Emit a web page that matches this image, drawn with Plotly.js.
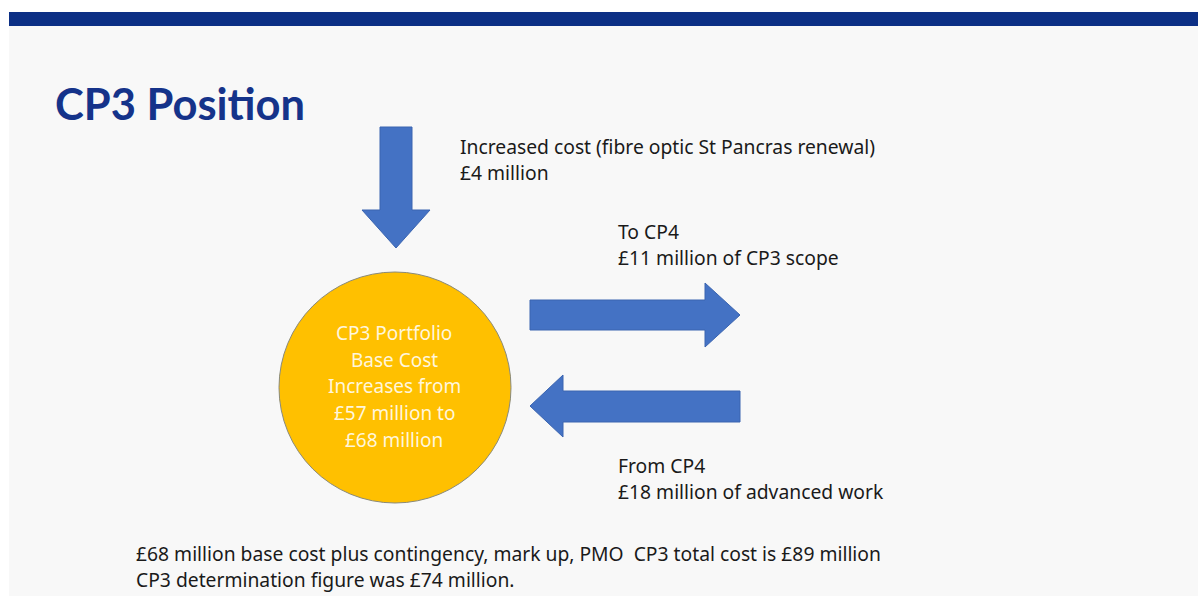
<!DOCTYPE html>
<html>
<head>
<meta charset="utf-8">
<script src="https://cdn.plot.ly/plotly-3.0.1.min.js"></script>
<style>html,body{margin:0;padding:0;background:#fff;}#chart{width:1198px;height:596px;}</style>
</head>
<body>
<div id="chart"></div>
<script>
// ---- content ----
const titleText = "CP3 Position";
const circleLines = ["CP3 Portfolio", "Base Cost", "Increases from", "£57 million to", "£68 million"];
const increaseLines = ["Increased cost (fibre optic St Pancras renewal)", "£4 million"];
const toCP4Lines = ["To CP4", "£11 million of CP3 scope"];
const fromCP4Lines = ["From CP4", "£18 million of advanced work"];
const footerLines = ["£68 million base cost plus contingency, mark up, PMO  CP3 total cost is £89 million",
                     "CP3 determination figure was £74 million."];

// ---- layout / styling ----
const W = 1198, H = 596;
const arrowFill = "#4472C4", arrowLine = "#3a64b0";
const textFont = {family: "Noto Sans, sans-serif", size: 19.3, color: "#1a1a1a"};

function arrowPath(pts) {
  return "M " + pts.map(p => p[0] + "," + p[1]).join(" L ") + " Z";
}
const downArrow = [[380,127],[412,127],[412,210],[430,210],[396,248],[362,210],[380,210]];
const rightArrow = [[530,300],[705,300],[705,283],[740,315],[705,347],[705,330],[530,330]];
const leftArrow = [[740,391],[563,391],[563,375],[530,406],[563,437],[563,422],[740,422]];

const shapes = [
  {type:"rect", xref:"x", yref:"y", x0:9, x1:W, y0:12, y1:H, fillcolor:"#f8f8f8", line:{width:0}, layer:"below"},
  {type:"rect", xref:"x", yref:"y", x0:9, x1:W, y0:12, y1:26, fillcolor:"#0c2f85", line:{width:0}},
  {type:"path", path:arrowPath(downArrow), fillcolor:arrowFill, line:{color:arrowLine, width:1}},
  {type:"path", path:arrowPath(rightArrow), fillcolor:arrowFill, line:{color:arrowLine, width:1}},
  {type:"path", path:arrowPath(leftArrow), fillcolor:arrowFill, line:{color:arrowLine, width:1}},
  {type:"circle", xref:"x", yref:"y", x0:279, x1:511, y0:272, y1:503, fillcolor:"#FFC000", line:{color:"#8a8a7a", width:1}}
];

const annotations = [];
function addLines(lines, x, y0, dy, font, xanchor) {
  lines.forEach((t, i) => annotations.push({
    x: x, y: y0 + i * dy, xref:"x", yref:"y", text: t, showarrow:false,
    xanchor: xanchor, yanchor:"middle", font: font
  }));
}
annotations.push({x:53, y:103, xref:"x", yref:"y", text:"<b>"+titleText+"</b>", showarrow:false,
  xanchor:"left", yanchor:"middle", font:{family:"Lato, sans-serif", size:43.5, color:"#15338a"}});
addLines(increaseLines, 458, 146, 26, textFont, "left");
addLines(toCP4Lines, 616, 231, 26, textFont, "left");
addLines(fromCP4Lines, 616, 465, 26, textFont, "left");
addLines(footerLines, 134, 553, 26, textFont, "left");
addLines(circleLines, 394, 333, 26.7, {family:"Noto Sans, sans-serif", size:19, color:"#fff6dc"}, "center");

const layout = {
  width: W, height: H,
  margin: {l:0, r:0, t:0, b:0, pad:0},
  paper_bgcolor: "#ffffff", plot_bgcolor: "rgba(0,0,0,0)",
  xaxis: {range:[0, W], visible:false, fixedrange:true},
  yaxis: {range:[H, 0], visible:false, fixedrange:true},
  showlegend: false,
  shapes: shapes,
  annotations: annotations
};
Plotly.newPlot("chart", [{x:[], y:[], type:"scatter", mode:"markers", hoverinfo:"skip"}], layout, {staticPlot:true, displayModeBar:false});
</script>
</body>
</html>
